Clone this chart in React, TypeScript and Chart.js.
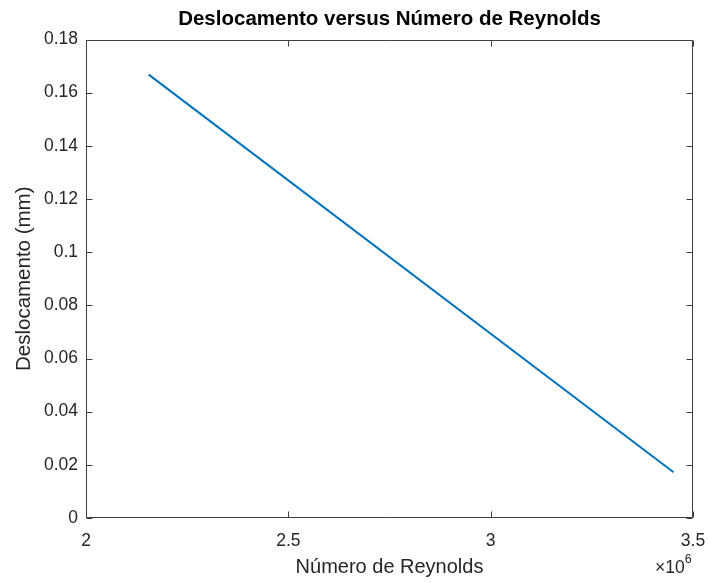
import React, { useEffect, useRef } from "react";
import { Chart, registerables } from "chart.js";

Chart.register(...registerables);

const reynolds = [2.155e6, 3.452e6];
const deslocamento = [0.1668, 0.0172];
const xTicks = [2e6, 2.5e6, 3e6, 3.5e6];
const yTicks = [0, 0.02, 0.04, 0.06, 0.08, 0.1, 0.12, 0.14, 0.16, 0.18];

const titleText = "Deslocamento versus Número de Reynolds";
const xLabel = "Número de Reynolds";
const yLabel = "Deslocamento (mm)";

const AXIS = "#404040";
const FONT = "'Liberation Sans', Arial, Helvetica, sans-serif";

const boxPlugin = {
  id: "matlabBox",
  afterDatasetsDraw(chart: any) {
    const { ctx, chartArea: a, scales } = chart;
    const L = 6;
    ctx.save();
    ctx.strokeStyle = AXIS;
    ctx.lineWidth = 1;
    ctx.beginPath();
    const l = Math.round(a.left) + 0.5;
    const r = Math.round(a.right) - 0.5;
    const t = Math.round(a.top) + 0.5;
    const b = Math.round(a.bottom) - 0.5;
    ctx.rect(l, t, r - l, b - t);
    for (const v of xTicks) {
      const x = Math.round(scales.x.getPixelForValue(v)) + 0.5;
      ctx.moveTo(x, b);
      ctx.lineTo(x, b - L);
      ctx.moveTo(x, t);
      ctx.lineTo(x, t + L);
    }
    for (const v of yTicks) {
      const y = Math.round(scales.y.getPixelForValue(v)) + 0.5;
      ctx.moveTo(l, y);
      ctx.lineTo(l + L, y);
      ctx.moveTo(r, y);
      ctx.lineTo(r - L, y);
    }
    ctx.stroke();
    // title centred over the axes
    ctx.fillStyle = "#000";
    ctx.textAlign = "center";
    ctx.textBaseline = "middle";
    ctx.font = `bold 20.5px ${FONT}`;
    ctx.fillText(titleText, (a.left + a.right) / 2, 19);
    // x10^6 exponent label
    ctx.fillStyle = "#262626";
    ctx.textBaseline = "alphabetic";
    ctx.textAlign = "left";
    ctx.font = `17.5px ${FONT}`;
    const bx = 655;
    const by = 573;
    ctx.fillText("×10", bx, by);
    const w = ctx.measureText("×10").width;
    ctx.font = `12.5px ${FONT}`;
    ctx.fillText("6", bx + w, by - 10);
    ctx.restore();
  },
};

export default function App() {
  const ref = useRef<HTMLCanvasElement | null>(null);
  useEffect(() => {
    if (!ref.current) return;
    const chart = new Chart(ref.current, {
      type: "line",
      data: {
        datasets: [
          {
            data: reynolds.map((x, i) => ({ x, y: deslocamento[i] })),
            borderColor: "#0072BD",
            borderWidth: 2,
            pointRadius: 0,
            fill: false,
            tension: 0,
          },
        ],
      },
      options: {
        animation: false,
        responsive: false,
        maintainAspectRatio: false,
        layout: { padding: { left: 0, right: 17, top: 39.5, bottom: 0 } },
        plugins: {
          legend: { display: false },
          tooltip: { enabled: false },
          title: { display: false },
        },
        scales: {
          x: {
            type: "linear",
            min: 2e6,
            max: 3.5e6,
            afterFit(s: any) {
              s.height = 65;
              s.paddingLeft = 0;
              s.paddingRight = 0;
            },
            afterBuildTicks(s: any) {
              s.ticks = xTicks.map((v) => ({ value: v }));
            },
            ticks: {
              color: "#262626",
              font: { family: FONT, size: 17.5 },
              padding: 13,
              maxRotation: 0,
              callback: (v: any) => String(Number(v) / 1e6),
            },
            grid: { display: false, drawTicks: false },
            border: { display: false },
            title: {
              display: true,
              text: xLabel,
              color: "#262626",
              font: { family: FONT, size: 20 },
              padding: { top: 0, bottom: 4 },
            },
          },
          y: {
            type: "linear",
            min: 0,
            max: 0.18,
            afterFit(s: any) {
              s.width = 86;
              s.paddingTop = 0;
              s.paddingBottom = 0;
            },
            afterBuildTicks(s: any) {
              s.ticks = yTicks.map((v) => ({ value: v }));
            },
            ticks: {
              color: "#262626",
              font: { family: FONT, size: 17.5 },
              padding: 8,
              callback: (v: any) => String(Math.round(Number(v) * 100) / 100),
            },
            grid: { display: false, drawTicks: false },
            border: { display: false },
            title: {
              display: true,
              text: yLabel,
              color: "#262626",
              font: { family: FONT, size: 20.5 },
              padding: { top: 12, bottom: 0 },
            },
          },
        },
      },
      plugins: [boxPlugin],
    } as any);
    return () => chart.destroy();
  }, []);
  return (
    <div style={{ position: "fixed", left: 0, top: 0, width: 710, height: 583, background: "#fff" }}>
      <canvas ref={ref} width={710} height={583} style={{ width: 710, height: 583 }} />
    </div>
  );
}
